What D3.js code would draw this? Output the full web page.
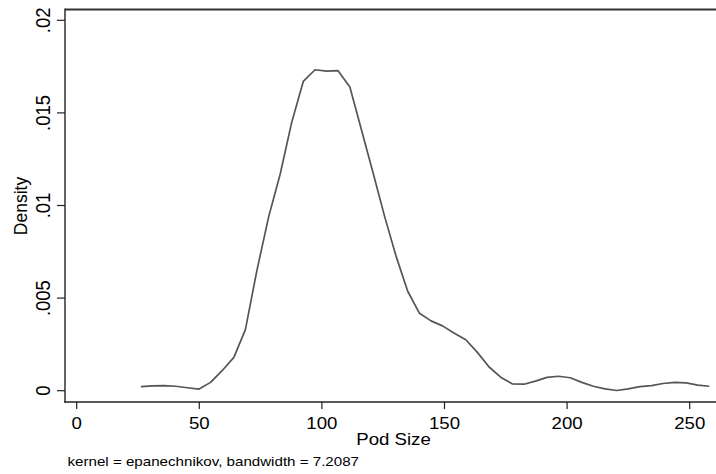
<!DOCTYPE html>
<html>
<head>
<meta charset="utf-8">
<script src="https://cdn.jsdelivr.net/npm/d3@7"></script>
<style>
html,body{margin:0;padding:0;background:#fff;}
svg{display:block;}
text{font-family:"Liberation Sans",Arial,Helvetica,sans-serif;fill:#000;}
</style>
</head>
<body>
<svg id="chart" width="716" height="474"></svg>
<script>
// Evaluation points (Pod Size) and estimated density
const podSize = [26.2,30.9,35.7,40.4,45.1,49.9,54.6,59.3,64.1,68.8,73.5,78.3,83.0,87.7,92.4,97.2,101.9,106.6,111.4,116.1,120.8,125.6,130.3,135.0,139.8,144.5,149.2,154.0,158.7,163.4,168.2,172.9,177.6,182.4,187.1,191.8,196.5,201.3,206.0,210.7,215.5,220.2,224.9,229.7,234.4,239.1,243.9,248.6,253.3,258.0];
const density = [0.00022,0.00026,0.00027,0.00024,0.00016,0.00009,0.00045,0.00108,0.00180,0.00330,0.00650,0.00940,0.01170,0.01450,0.01670,0.01733,0.01726,0.01728,0.01640,0.01410,0.01180,0.00940,0.00724,0.00537,0.00418,0.00377,0.00350,0.00310,0.00275,0.00207,0.00128,0.00073,0.00037,0.00035,0.00052,0.00072,0.00078,0.00070,0.00045,0.00024,0.00010,0.00001,0.00010,0.00022,0.00027,0.00039,0.00045,0.00042,0.00030,0.00024];
const xTicks = [0,50,100,150,200,250];
const yTicks = [0,0.005,0.01,0.015,0.02];
const yTickLabels = ["0",".005",".01",".015",".02"];
const xTitle = "Pod Size";
const yTitle = "Density";
const note = "kernel = epanechnikov, bandwidth = 7.2087";

const svg = d3.select("#chart");
const x = d3.scaleLinear().domain([0,250]).range([76.7,689.7]);
const y = d3.scaleLinear().domain([0,0.02]).range([390.7,20.3]);

const plotLeft = 65, plotTop = 9.5, plotBottom = 402, plotRight = 716;
const sx = 1.13;

// plot region outline (top)
svg.append("line").attr("x1",plotLeft).attr("x2",plotRight).attr("y1",plotTop).attr("y2",plotTop)
  .attr("stroke","#333").attr("stroke-width",2);

// Y axis
const yAxis = svg.append("g");
yAxis.append("line").attr("x1",plotLeft).attr("x2",plotLeft).attr("y1",plotTop-1).attr("y2",plotBottom+0.7)
  .attr("stroke","#222").attr("stroke-width",1.4);
yTicks.forEach((t,i)=>{
  yAxis.append("line").attr("x1",plotLeft-8).attr("x2",plotLeft).attr("y1",y(t)).attr("y2",y(t))
    .attr("stroke","#222").attr("stroke-width",1.2);
  yAxis.append("text")
    .attr("transform",`translate(49.5,${y(t)}) scale(1.05,1) rotate(-90)`)
    .attr("text-anchor","middle").style("font-size","18.5px")
    .text(yTickLabels[i]);
});

// X axis
const xAxis = svg.append("g");
xAxis.append("line").attr("x1",plotLeft-0.7).attr("x2",plotRight).attr("y1",plotBottom).attr("y2",plotBottom)
  .attr("stroke","#222").attr("stroke-width",1.4);
xTicks.forEach(t=>{
  xAxis.append("line").attr("x1",x(t)).attr("x2",x(t)).attr("y1",plotBottom).attr("y2",plotBottom+7)
    .attr("stroke","#222").attr("stroke-width",1.2);
  xAxis.append("text")
    .attr("transform",`translate(${x(t)},428.5) scale(${sx},1)`)
    .attr("text-anchor","middle").style("font-size","16.5px")
    .text(d3.format("d")(t));
});

// titles
svg.append("text").attr("transform",`translate(393.5,444.5) scale(${sx},1)`)
  .attr("text-anchor","middle").style("font-size","16.5px").text(xTitle);
svg.append("text").attr("transform",`translate(27,206) scale(1.1,1) rotate(-90)`)
  .attr("text-anchor","middle").style("font-size","17.5px").text(yTitle);
svg.append("text").attr("transform",`translate(67.5,466.3) scale(${sx},1)`)
  .attr("text-anchor","start").style("font-size","13.4px").text(note);

// density line
const line = d3.line().x((d,i)=>x(podSize[i])).y(d=>y(d));
svg.append("path").datum(density)
  .attr("d",line).attr("fill","none").attr("stroke","#555").attr("stroke-width",1.7)
  .attr("stroke-linejoin","round");
</script>
</body>
</html>
